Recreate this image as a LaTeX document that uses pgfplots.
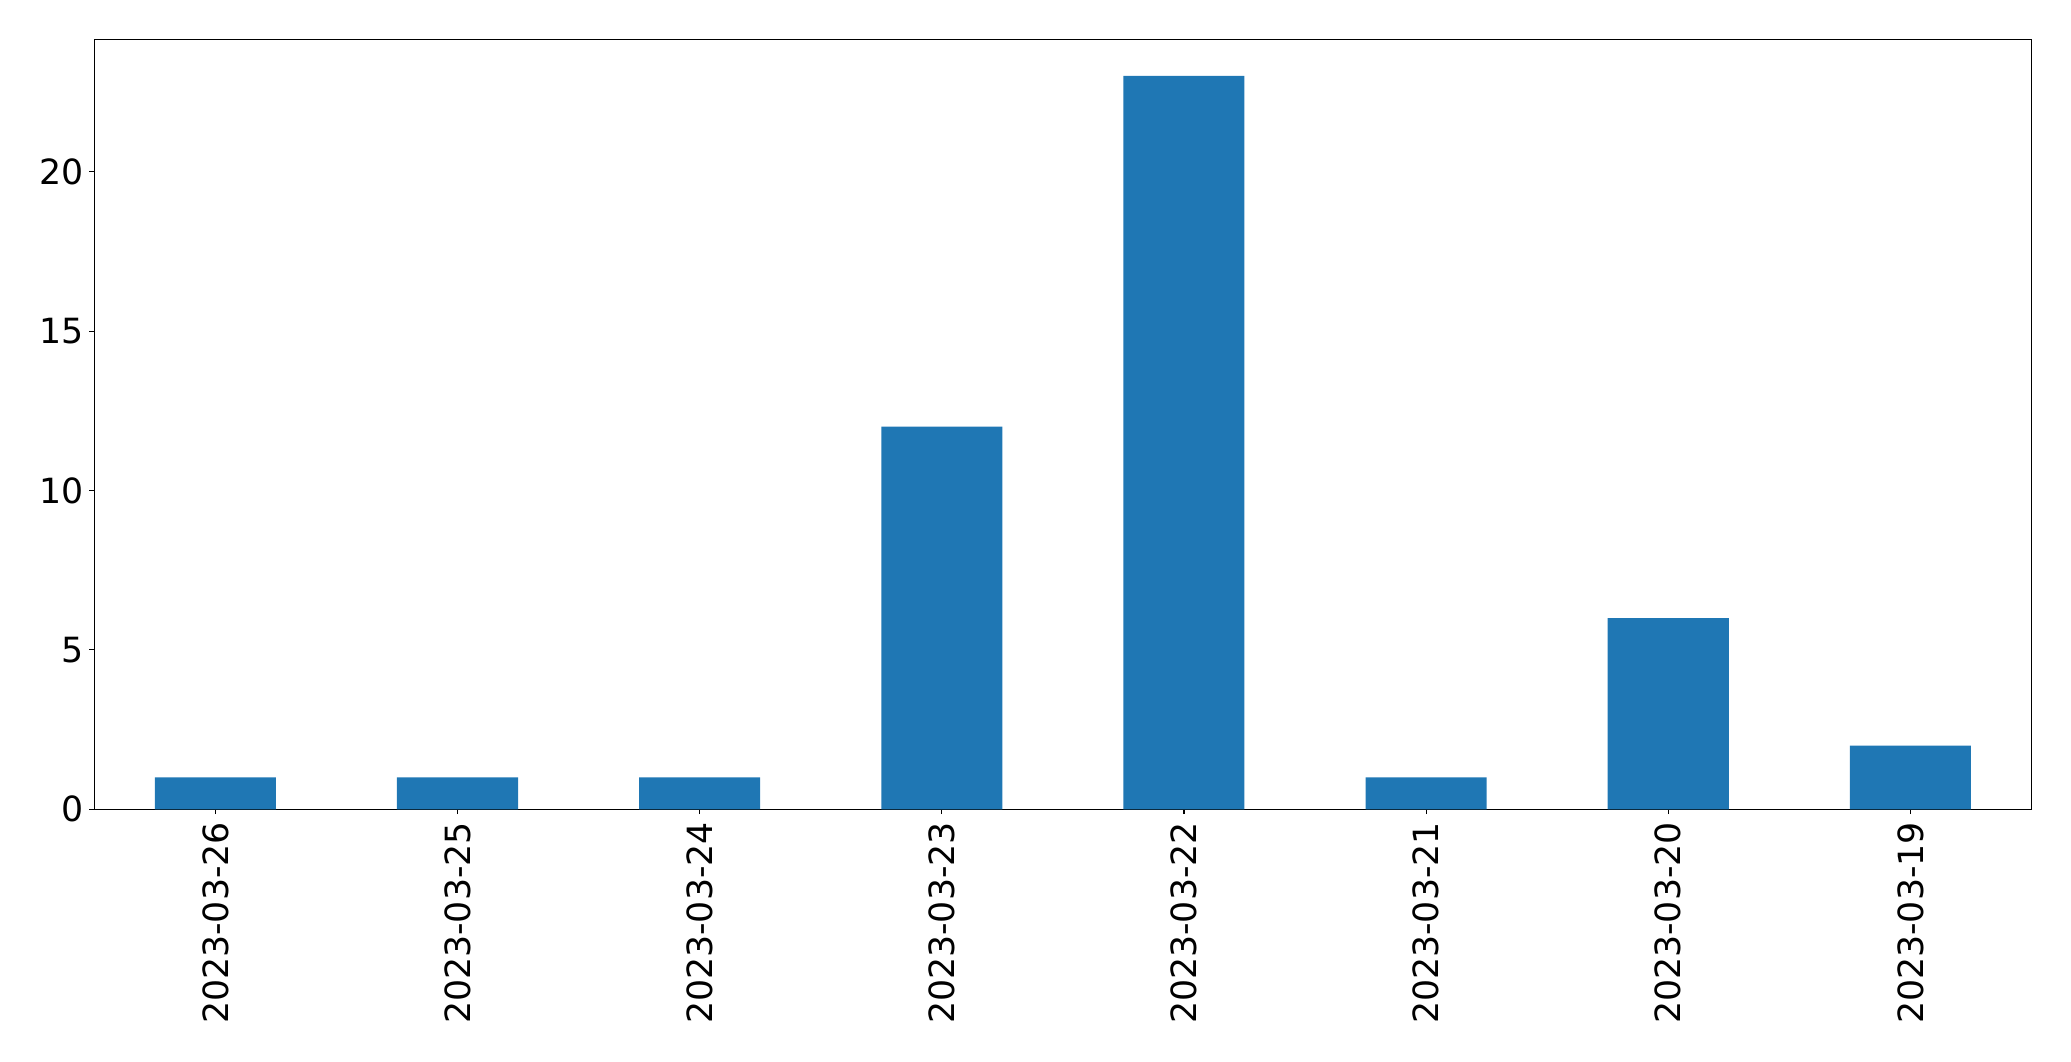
\documentclass[border=0pt]{standalone}
\usepackage{pgfplots}
\pgfplotsset{compat=1.18}
\usepackage{fontspec}
\setmainfont{DejaVu Sans}
\definecolor{barblue}{HTML}{1F77B4}
\begin{document}
\fontsize{25}{30}\selectfont
\begin{tikzpicture}
\begin{axis}[
  scale only axis,
  width=1394.7pt, height=554.4pt,
  xmin=-0.5, xmax=7.5, ymin=0, ymax=24.15,
  xtick={0,1,2,3,4,5,6,7},
  xticklabels={2023-03-26,2023-03-25,2023-03-24,2023-03-23,2023-03-22,2023-03-21,2023-03-20,2023-03-19},
  ytick={0,5,10,15,20},
  tick align=outside, tick pos=left,
  major tick length=3.5pt,
  every tick/.style={black, line width=0.8pt},
  axis line style={line width=0.8pt},
  /pgf/number format/assume math mode=true,
  tick label style={font=\fontsize{25}{30}\selectfont, inner sep=0pt},
  x tick label style={rotate=90, anchor=east},
  xticklabel shift=5.5pt, yticklabel shift=4pt,
]
\addplot[ybar, bar width=0.5, fill=barblue, draw=none] coordinates {
 (0,1) (1,1) (2,1) (3,12) (4,23) (5,1) (6,6) (7,2)
};
\end{axis}
\path ([xshift=-67.9pt,yshift=-181.2pt]current axis.south west) rectangle ([xshift=28.5pt,yshift=28.3pt]current axis.north east);
\end{tikzpicture}
\end{document}
